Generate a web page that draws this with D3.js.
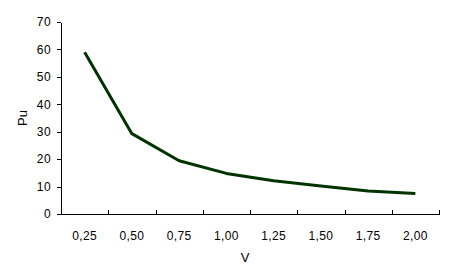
<!DOCTYPE html>
<html>
<head>
<meta charset="utf-8">
<script src="https://cdn.jsdelivr.net/npm/d3@7"></script>
<style>
  body { margin: 0; background: #fff; }
  svg { display: block; font-family: "Liberation Sans", Arial, sans-serif; }
  .axis text { font-size: 12px; letter-spacing: 0.4px; fill: #000; }
  .axis path, .axis line { stroke: #000; shape-rendering: crispEdges; }
</style>
</head>
<body>
<div id="chart"></div>
<script>
// values
var categories = ["0,25", "0,50", "0,75", "1,00", "1,25", "1,50", "1,75", "2,00"];
var puValues = [59.0, 29.3, 19.4, 14.8, 12.1, 10.2, 8.4, 7.5];
var yTicks = [0, 10, 20, 30, 40, 50, 60, 70];

var width = 450, height = 280;
var margin = {top: 22, right: 11, bottom: 66, left: 61};

var svg = d3.select("#chart")
  .append("svg")
  .attr("width", width)
  .attr("height", height);

var x = d3.scaleBand()
  .domain(categories)
  .range([margin.left, width - margin.right])
  .padding(0);

var y = d3.scaleLinear()
  .domain([0, 70])
  .range([height - margin.bottom, margin.top]);

// boundary scale for the x tick marks between categories
var xEdge = d3.scaleLinear()
  .domain([0, categories.length])
  .range(x.range());

// y axis
svg.append("g")
  .attr("class", "axis")
  .attr("transform", "translate(" + margin.left + ",0)")
  .call(d3.axisLeft(y).tickValues(yTicks).tickSizeInner(4).tickSizeOuter(0).tickPadding(6));

// x axis labels
svg.append("g")
  .attr("class", "axis")
  .attr("transform", "translate(0," + y(0) + ")")
  .call(d3.axisBottom(x).tickSize(0).tickPadding(17));

// x tick marks pointing up, at band edges
svg.append("g")
  .attr("class", "axis")
  .attr("transform", "translate(0," + y(0) + ")")
  .call(d3.axisBottom(xEdge).tickValues(d3.range(1, categories.length + 1)).tickSizeInner(-4).tickSizeOuter(0).tickFormat(""))
  .select(".domain").remove();

// line
var line = d3.line()
  .x(function(d, i){ return x(categories[i]) + x.bandwidth() / 2; })
  .y(function(d){ return y(d); });

svg.append("path")
  .datum(puValues)
  .attr("fill", "none")
  .attr("stroke", "#003300")
  .attr("stroke-width", 3)
  .attr("stroke-linejoin", "round")
  .attr("d", line);

// axis titles
svg.append("text")
  .attr("x", x.range()[0] + (x.range()[1] - x.range()[0]) / 2 - 5)
  .attr("y", 262)
  .attr("text-anchor", "middle")
  .style("font-size", "13px")
  .text("V");

svg.append("text")
  .attr("transform", "translate(27," + (y(0) + y(70)) / 2 + ") rotate(-90)")
  .attr("text-anchor", "middle")
  .style("font-size", "13px")
  .text("Pu");
</script>
</body>
</html>
